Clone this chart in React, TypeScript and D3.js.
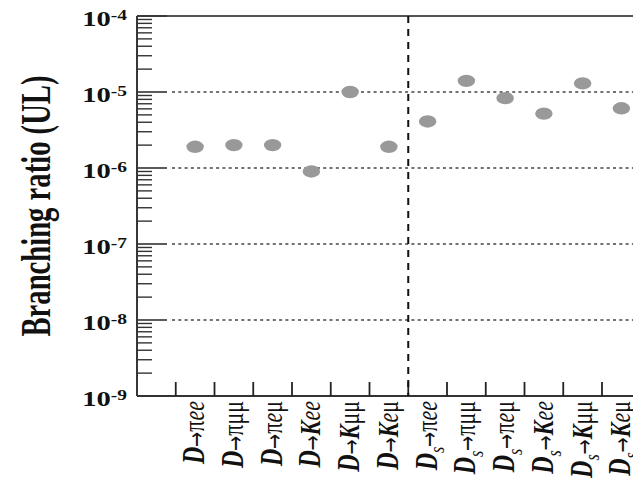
import React from "react";
import * as d3 from "d3";

const parents = ["D", "D", "D", "D", "D", "D", "Ds", "Ds", "Ds", "Ds", "Ds", "Ds"];
const decays = ["πee", "πμμ", "πeμ", "Kee", "Kμμ", "Keμ", "πee", "πμμ", "πeμ", "Kee", "Kμμ", "Keμ"];
const limits = [1.9e-6, 2.0e-6, 2.0e-6, 0.9e-6, 1.0e-5, 1.9e-6, 4.1e-6, 1.4e-5, 8.3e-6, 5.2e-6, 1.3e-5, 6.1e-6];
const yTickExps = [-9, -8, -7, -6, -5, -4];
const gridExps = [-8, -7, -6, -5];

const W = 633;
const H = 484;
const SX = 1.3;
const FONT = "Liberation Serif";

export default function App() {
  const keys = ["", ...parents.map((p, i) => `${p}-${decays[i]}-${i}`)];
  const x = d3.scaleBand<string>().domain(keys).range([137, 137 + 13 * 38.75]).padding(0);
  const y = d3.scaleLog().domain([1e-9, 1e-4]).range([396, 16]);
  const left = 137;
  const right = W;

  const minor: number[] = [];
  for (let e = -9; e < -4; e++) {
    for (let m = 2; m <= 9; m++) minor.push(m * Math.pow(10, e));
  }
  const dashedKey = keys[7];
  const isGreek = (c: string) => c === "π" || c === "μ";

  return (
    <svg width={W} height={H} style={{ position: "absolute", left: 0, top: 0, background: "#fff" }}>
      {gridExps.map((e) => (
        <line key={e} x1={172} x2={right} y1={y(Math.pow(10, e))} y2={y(Math.pow(10, e))}
          stroke="#444" strokeWidth={1.6} strokeDasharray="3,3.3" />
      ))}
      <line x1={left} x2={right} y1={y(1e-4)} y2={y(1e-4)} stroke="#555" strokeWidth={2} />
      <line x1={left} x2={right} y1={y(1e-9)} y2={y(1e-9)} stroke="#333" strokeWidth={2} />
      <line x1={left} x2={left} y1={y(1e-4)} y2={y(1e-9)} stroke="#222" strokeWidth={1.8} />
      {minor.map((v, i) => (
        <line key={i} x1={left} x2={left + 15} y1={y(v)} y2={y(v)} stroke="#333" strokeWidth={1.4} />
      ))}
      {yTickExps.map((e) => (
        <line key={e} x1={left} x2={left + 30} y1={y(Math.pow(10, e))} y2={y(Math.pow(10, e))} stroke="#333" strokeWidth={1.6} />
      ))}
      {yTickExps.map((e) => {
        const yy = y(Math.pow(10, e));
        return (
          <g key={e} transform={`translate(127,${yy}) scale(${SX},1)`}>
            <text x={0} y={10} textAnchor="end" fontFamily={FONT} fontWeight="bold" fontSize={22} fill="#111">
              10<tspan dy={-6} fontSize={15}>{e}</tspan>
            </text>
          </g>
        );
      })}
      <text transform={`translate(50,206) scale(${SX},1) rotate(-90)`} textAnchor="middle"
        fontFamily={FONT} fontWeight="bold" fontSize={32} textLength={261} lengthAdjust="spacingAndGlyphs" fill="#111">
        Branching ratio (UL)
      </text>
      {keys.slice(1).map((k) => (
        <line key={k} x1={x(k)!} x2={x(k)!} y1={396} y2={382} stroke="#222" strokeWidth={1.8} />
      ))}
      <line x1={x(dashedKey)!} x2={x(dashedKey)!} y1={16} y2={396} stroke="#111" strokeWidth={2} strokeDasharray="7,6" />
      {limits.map((v, i) => (
        <ellipse key={i} cx={x(keys[i + 1])! + x.bandwidth() / 2} cy={y(v)} rx={8.7} ry={6.2} fill="#999" />
      ))}
      {keys.slice(1).map((k, i) => {
        const cx = x(k)! + x.bandwidth() / 2;
        const isS = parents[i] === "Ds";
        return (
          <text key={k} transform={`translate(${cx + 9},401) scale(${SX},1) rotate(-90)`} textAnchor="end"
            fontFamily={FONT} fontStyle="italic" fontSize={22} fill="#111">
            <tspan fontWeight="bold" fontSize={24}>D</tspan>
            {isS ? <tspan fontSize={16} dy={6}>s</tspan> : null}
            <tspan fontStyle="normal" fontFamily="DejaVu Sans" fontSize={18} dy={isS ? -6 : 0}>→</tspan>
            {Array.from(decays[i]).map((c, j) => (
              <tspan key={j} fontStyle={isGreek(c) ? "normal" : "italic"} fontWeight={c === "K" ? "bold" : "normal"}>{c}</tspan>
            ))}
          </text>
        );
      })}
    </svg>
  );
}
